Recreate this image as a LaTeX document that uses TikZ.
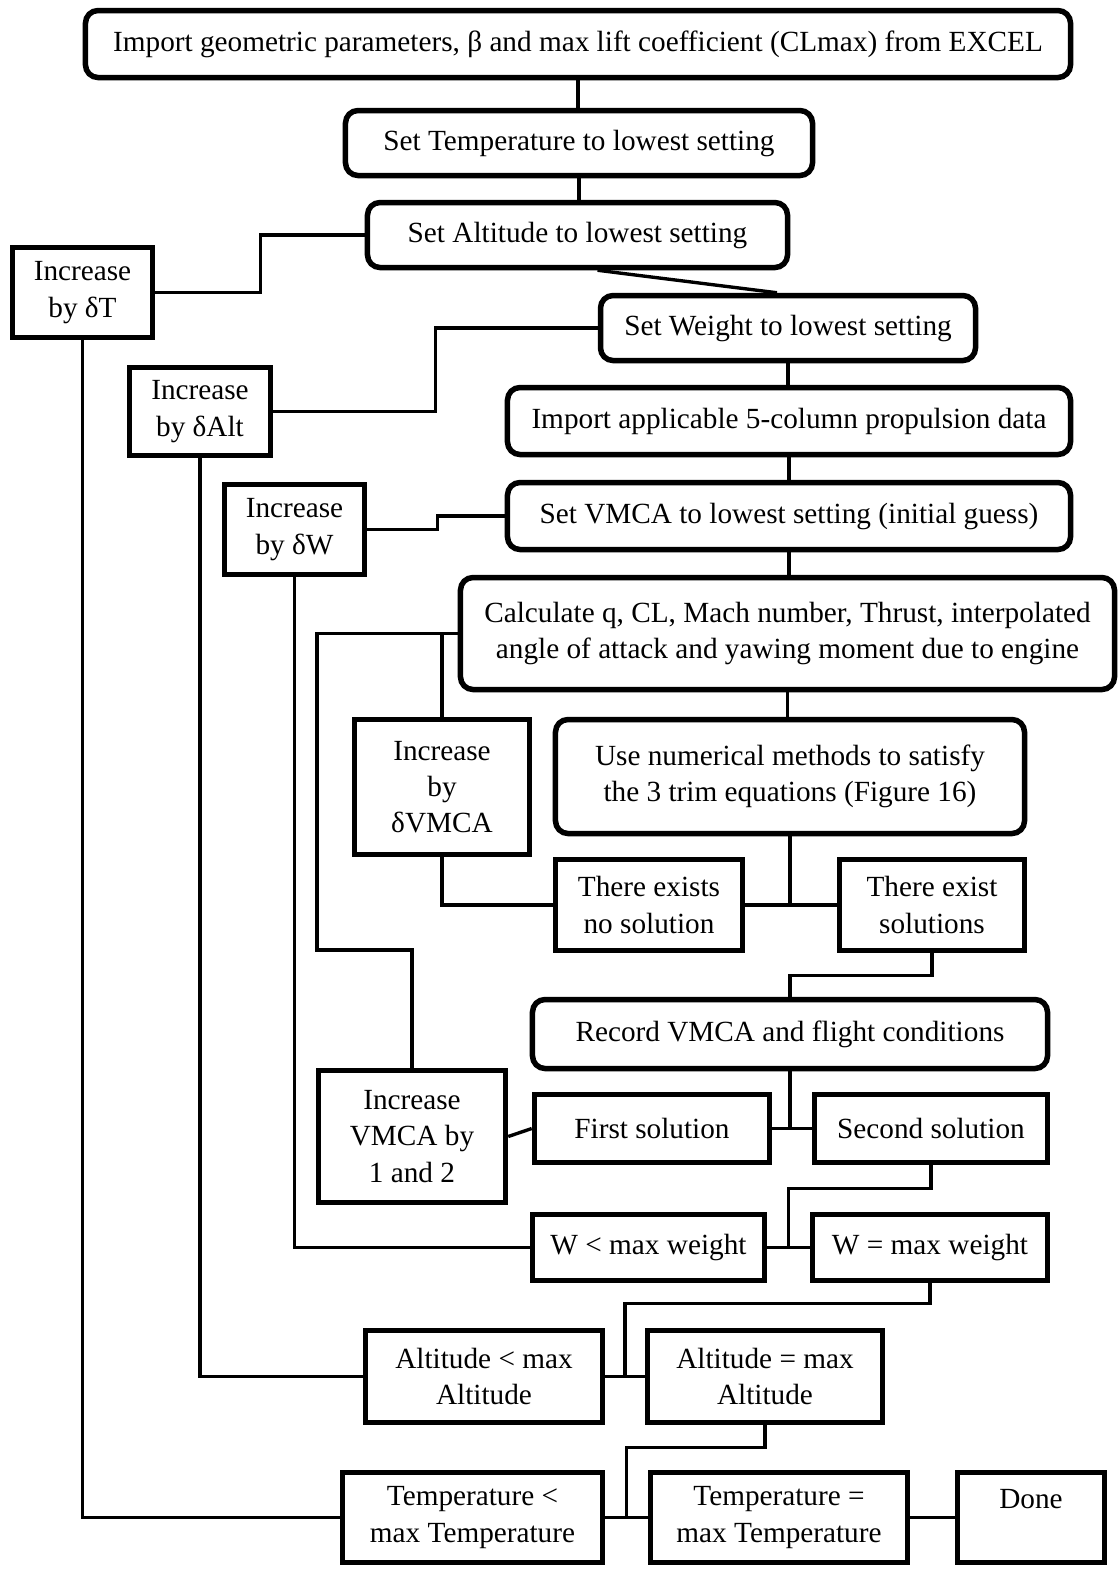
\documentclass[tikz,border=0pt]{standalone}
\usepackage{fontspec}
\setmainfont{Liberation Serif}
\usetikzlibrary{calc}

\begin{document}
\begin{tikzpicture}[x=0.4pt, y=-0.4pt,
box/.style={rectangle, draw, line width=2.2pt, align=center, inner sep=2pt,
font=\fontsize{11.7}{14.5}\selectfont}, rbox/.style={box, rounded corners=5pt},
ln/.style={line width=1.35pt, black} ]
\useasboundingbox (0,0) rectangle (1119,1569);
\node[rbox, minimum width=394pt, minimum height=26.8pt] (imp) at (578,44)
{Import geometric parameters, β and max lift coefficient (CLmax) from EXCEL};
\node[rbox, minimum width=186.8pt, minimum height=26pt] (temp) at (579,143)
{Set Temperature to lowest setting};
\node[rbox, minimum width=168pt, minimum height=26pt] (alt) at (577.5,235)
{Set Altitude to lowest setting};
\node[box, minimum width=56pt, minimum height=36pt] (incT) at (82.5,292.5) {Increase\\by δT};
\node[rbox, minimum width=150pt, minimum height=26pt] (wt) at (788,328)
{Set Weight to lowest setting};
\node[box, minimum width=56.4pt, minimum height=35.2pt] (incAlt) at (200,411.5) {Increase\\by δAlt};
\node[rbox, minimum width=225.2pt, minimum height=26.8pt] (prop) at (789,421)
{Import applicable 5-column propulsion data};
\node[box, minimum width=56pt, minimum height=36pt] (incW) at (294.5,529.5) {Increase\\by δW};
\node[rbox, minimum width=225.2pt, minimum height=26.8pt] (vmca) at (789,516)
{Set VMCA to lowest setting (initial guess)};
\node[rbox, minimum width=261.6pt, minimum height=44.8pt] (calc) at (787.5,633.5)
{Calculate q, CL, Mach number, Thrust, interpolated\\angle of attack and yawing moment due to engine};
\node[box, minimum width=70pt, minimum height=54pt] (incV) at (442,787) {Increase\\by\\δVMCA};
\node[rbox, minimum width=187.6pt, minimum height=45.6pt] (num) at (790,776.5)
{Use numerical methods to satisfy\\the 3 trim equations (Figure 16)};
\node[box, minimum width=74.8pt, minimum height=36.4pt] (nosol) at (649,905) {There exists\\no solution};
\node[box, minimum width=74pt, minimum height=36.4pt] (sol) at (932,905) {There exist\\solutions};
\node[rbox, minimum width=206pt, minimum height=27.6pt] (rec) at (790,1034)
{Record VMCA and flight conditions};
\node[box, minimum width=74.8pt, minimum height=52.8pt] (incV2) at (412,1136.5) {Increase\\VMCA by\\1 and 2};
\node[box, minimum width=94pt, minimum height=27.2pt] (first) at (652,1128.5) {First solution};
\node[box, minimum width=93.2pt, minimum height=27.2pt] (second) at (931,1128.5) {Second solution};
\node[box, minimum width=92.8pt, minimum height=26.4pt] (wlt) at (648.5,1247.5) {W < max weight};
\node[box, minimum width=94pt, minimum height=26.4pt] (weq) at (930,1247.5) {W = max weight};
\node[box, minimum width=94.8pt, minimum height=36.8pt] (altlt) at (484,1376.5) {Altitude < max\\Altitude};
\node[box, minimum width=94pt, minimum height=36.8pt] (alteq) at (765,1376.5) {Altitude = max\\Altitude};
\node[box, minimum width=104pt, minimum height=36pt] (templt) at (472.5,1517.5) {Temperature <\\max Temperature};
\node[box, minimum width=102.8pt, minimum height=36pt] (tempeq) at (779,1517.5) {Temperature =\\max Temperature};
\node[box, minimum width=58.8pt, minimum height=36pt] (done) at (1031,1517.5) {Done\\\phantom{D}};
\draw[ln] (imp.south) -- (imp.south |- temp.north);
\draw[ln] (temp.south) -- (temp.south |- alt.north);
\draw[ln] ([xshift=8pt]alt.south) -- ([xshift=-4.4pt]wt.north);
\draw[ln] (wt.south) -- (wt.south |- prop.north);
\draw[ln] (prop.south) -- (prop.south |- vmca.north);
\draw[ln] (vmca.south) -- (vmca.south |- calc.north);
\draw[ln] (calc.south) -- (calc.south |- num.north);
\draw[ln] (incT.east) -- ++(105,0) |- (alt.west);
\draw[ln] (incAlt.east) -- ++(162,0) |- (wt.west);
\draw[ln] (incW.east) -- ++(70,0) |- (vmca.west);
\draw[ln] (incT.south) |- (templt.west);
\draw[ln] (incAlt.south) |- (altlt.west);
\draw[ln] (incW.south) |- (wlt.west);
\coordinate (loop) at (317,950);
\draw[ln] (calc.west) -| (loop) -| (incV2.north);
\draw[ln] (calc.west -| incV.north) -- (incV.north);
\draw[ln] (incV.south) |- (nosol.west);
\draw[ln] (nosol.east) -- (sol.west);
\draw[ln] (num.south) -- (num.south |- sol.west);
\draw[ln] (sol.south) -- ++(0,22) -| (rec.north);
\draw[ln] (rec.south) -- (rec.south |- second.west);
\draw[ln] (first.east) -- (second.west);
\draw[ln] (first.west) -- (incV2.east);
\draw[ln] (second.south) -- ++(0,23) -| ($(wlt.east)!0.5!(weq.west)$);
\draw[ln] (wlt.east) -- (weq.west);
\draw[ln] (weq.south) -- ++(0,20) -| ($(altlt.east)!0.5!(alteq.west)$);
\draw[ln] (altlt.east) -- (alteq.west);
\draw[ln] (alteq.south) -- ++(0,22) -| ($(templt.east)!0.5!(tempeq.west)$);
\draw[ln] (templt.east) -- (tempeq.west);
\draw[ln] (tempeq.east) -- (done.west);
\end{tikzpicture}
\end{document}
